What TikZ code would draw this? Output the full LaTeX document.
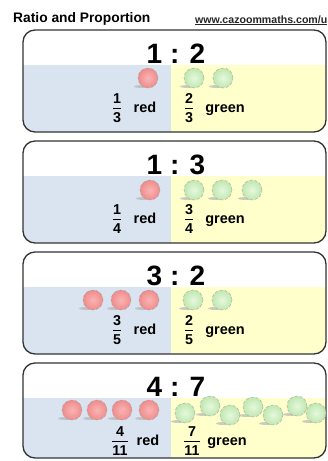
\documentclass[tikz,border=0pt]{standalone}
\usepackage{fontspec}
\setmainfont{Liberation Sans}
\usetikzlibrary{calc}
\definecolor{bluebg}{HTML}{DAE4F0}
\definecolor{yellowbg}{HTML}{FFFFCC}
\definecolor{redout}{HTML}{EE8C8C}
\definecolor{redin}{HTML}{FBB4B4}
\definecolor{greenout}{HTML}{C0E7B0}
\definecolor{greenin}{HTML}{E6F8DE}
\definecolor{boxedge}{HTML}{333333}
\newcommand{\myfrac}[2]{\begin{tabular}{@{}c@{}}#1\\[-1pt]\hline\rule{0pt}{14.5pt}#2\end{tabular}}
\tikzset{
  x=1pt, y=-1pt,
  boxline/.style={draw=boxedge, line width=1.3pt, rounded corners=12pt},
  ratiotext/.style={font=\fontsize{28}{32}\selectfont\bfseries, anchor=base, inner sep=0pt},
  wordtext/.style={font=\fontsize{14.5}{17}\selectfont\bfseries, anchor=base, inner sep=0pt},
  fractext/.style={font=\fontsize{14.3}{17}\selectfont\bfseries, inner sep=0pt},
  ballbase/.style={circle, minimum size=20pt, inner sep=0pt, draw=gray!75, densely dashed, line width=0.35pt},
  redball/.style={ballbase, shading=radial, inner color=redin, outer color=redout},
  greenball/.style={ballbase, shading=radial, inner color=greenin, outer color=greenout},
  ballshadow/.style={fill=gray!60, opacity=0.65},
}
\newcommand{\ball}[4]{% style, name, x, y
  \fill[ballshadow] (#3-6,#4+8.5) ellipse [x radius=8pt, y radius=1.5pt];
  \node[#1] (#2) at (#3,#4) {};
}
\newcommand{\panel}[2]{% top, bottom
  \begin{scope}
    \clip[rounded corners=12pt] (23,#1) rectangle (326,#2);
    \fill[white] (23,#1) rectangle (326,#2);
    \fill[bluebg] (23,#1+35) rectangle (171,#2);
    \fill[yellowbg] (171,#1+35) rectangle (326,#2);
  \end{scope}
  \draw[boxline] (23,#1) rectangle (326,#2);
}
\begin{document}
\begin{tikzpicture}
\useasboundingbox (0,0) rectangle (328,461);
\fill[white] (0,0) rectangle (328,461);

\node[font=\fontsize{13.8}{16}\selectfont\bfseries, anchor=base west, inner sep=0pt] (title) at (13,22) {Ratio and Proportion};
\node[font=\fontsize{10.6}{13}\selectfont\bfseries, anchor=base west, inner sep=0pt, text=black!85] (url) at (195,23) {\underline{www.cazoommaths.com/u}};

% ---------- panel 1 ----------
\panel{30}{132}
\node[ratiotext] (r1) at (176,63) {1 : 2};
\ball{redball}{b1r1}{148}{78}
\ball{greenball}{b1g1}{194}{78}
\ball{greenball}{b1g2}{223}{78}
\node[fractext] (f1r) at (117,110) {\myfrac{1}{3}};
\node[wordtext] (w1r) at (145,112) {red};
\node[fractext] (f1g) at (189,110) {\myfrac{2}{3}};
\node[wordtext] (w1g) at (225,112) {green};

% ---------- panel 2 ----------
\panel{141}{243}
\node[ratiotext] (r2) at (176,174) {1 : 3};
\ball{redball}{b2r1}{150}{190}
\ball{greenball}{b2g1}{194}{190}
\ball{greenball}{b2g2}{222}{190}
\ball{greenball}{b2g3}{252}{190}
\node[fractext] (f2r) at (117,221) {\myfrac{1}{4}};
\node[wordtext] (w2r) at (145,223) {red};
\node[fractext] (f2g) at (189,221) {\myfrac{3}{4}};
\node[wordtext] (w2g) at (225,223) {green};

% ---------- panel 3 ----------
\panel{252}{354}
\node[ratiotext] (r3) at (176,285) {3 : 2};
\ball{redball}{b3r1}{93}{300}
\ball{redball}{b3r2}{121}{300}
\ball{redball}{b3r3}{149}{300}
\ball{greenball}{b3g1}{193}{300}
\ball{greenball}{b3g2}{222}{300}
\node[fractext] (f3r) at (117,332) {\myfrac{3}{5}};
\node[wordtext] (w3r) at (145,334) {red};
\node[fractext] (f3g) at (189,332) {\myfrac{2}{5}};
\node[wordtext] (w3g) at (225,334) {green};

% ---------- panel 4 ----------
\panel{363}{458}
\node[ratiotext] (r4) at (176,396) {4 : 7};
\ball{redball}{b4r1}{72}{410}
\ball{redball}{b4r2}{97}{410}
\ball{redball}{b4r3}{122}{410}
\ball{redball}{b4r4}{149}{410}
\ball{greenball}{b4g1}{185}{413}
\ball{greenball}{b4g2}{210}{406}
\ball{greenball}{b4g3}{230}{415}
\ball{greenball}{b4g4}{253}{407}
\ball{greenball}{b4g5}{273}{415}
\ball{greenball}{b4g6}{297}{406}
\ball{greenball}{b4g7}{316}{413}
\node[fractext] (f4r) at (120,443) {\myfrac{4}{11}};
\node[wordtext] (w4r) at (148,445) {red};
\node[fractext] (f4g) at (192,443) {\myfrac{7}{11}};
\node[wordtext] (w4g) at (227,445) {green};
\end{tikzpicture}
\end{document}
